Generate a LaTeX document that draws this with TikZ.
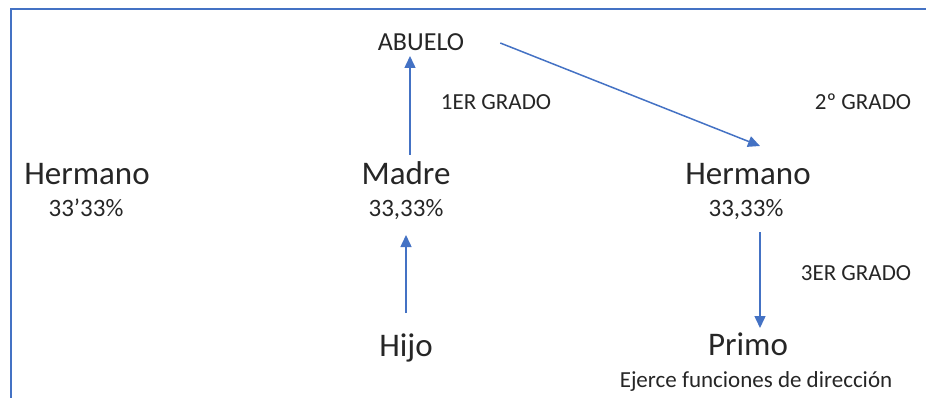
\documentclass[tikz,border=0pt]{standalone}
\usepackage{fontspec}
\setmainfont{Carlito}
\usetikzlibrary{arrows.meta}
\definecolor{obl}{HTML}{4472C4}
\definecolor{txt}{HTML}{262626}
\begin{document}
\begin{tikzpicture}[x=1pt,y=-1pt,
  lbl/.style={anchor=base, inner sep=0pt, text=txt},
  big/.style={lbl, font=\fontsize{33}{36}\selectfont},
  mid/.style={lbl, font=\fontsize{26}{30}\selectfont},
  pct/.style={lbl, font=\fontsize{25}{28}\selectfont},
  sml/.style={lbl, font=\fontsize{23}{26}\selectfont},
  arr/.style={draw=obl, line width=1.5pt, -{Triangle[length=12pt,width=11pt]}},
  frame/.style={draw=obl, line width=1.6pt}]
\useasboundingbox (0,0) rectangle (926,398);
\draw[frame] (11,398) -- (11,9) -- (926,9);
\node[mid] (abuelo) at (421,51) {ABUELO};
\node[sml] (g1) at (496,110) {1ER GRADO};
\node[sml] (g2) at (863,110) {2º GRADO};
\node[sml] (g3) at (856,280) {3ER GRADO};
\node[big] (herm1) at (87,185) {Hermano};
\node[pct] (herm1p) at (86,216) {33’33\%};
\node[big] (madre) at (406,185) {Madre};
\node[pct] (madrep) at (406,216) {33,33\%};
\node[big] (herm2) at (748,185) {Hermano};
\node[pct] (herm2p) at (746,216) {33,33\%};
\node[big] (hijo) at (406,356) {Hijo};
\node[big] (primo) at (748,355) {Primo};
\node[sml] (ejerce) at (756,387) {Ejerce funciones de dirección};
\draw[arr] ([xshift=4pt]madre.north |- 0,155) -- ([xshift=-11pt]abuelo.south |- 0,56);
\draw[arr] ([xshift=36pt]abuelo.east |- 0,43) -- ([xshift=12pt]herm2.north |- 0,146);
\draw[arr] (hijo.north |- 0,313) -- (madrep.south |- 0,235);
\draw[arr] ([xshift=14pt]herm2p.south |- 0,232) -- ([xshift=12pt]primo.north |- 0,328);
\end{tikzpicture}
\end{document}
